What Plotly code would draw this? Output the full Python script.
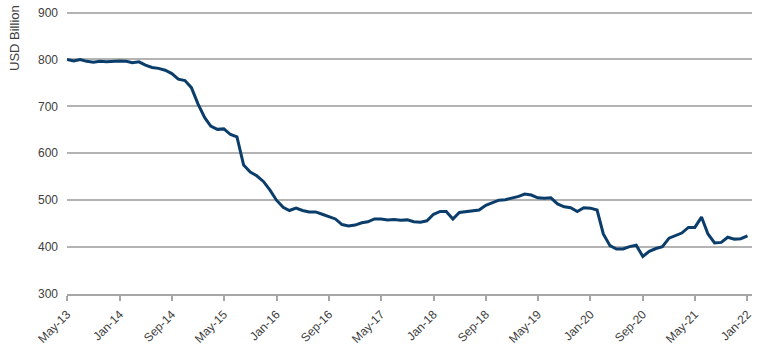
import plotly.graph_objects as go
import pandas as pd

start_month = "2013-05-01"
values = [
    800, 797, 800, 796, 794, 796, 795, 796, 797, 796,
    793, 795, 788, 783, 781, 777, 770, 758, 755, 740,
    705, 676, 658, 651, 652, 640, 635, 575, 560, 552,
    540, 522, 500, 485, 478, 483, 478, 475, 475, 470,
    465, 460, 448, 445, 447, 452, 454, 460, 460, 458,
    459, 457, 458, 454, 453, 456, 470, 476, 476, 460,
    474, 476, 477, 479, 489, 495, 500, 501, 504, 508,
    513, 511, 505, 504, 505, 492, 486, 484, 476, 484,
    483, 479, 428, 403, 396, 396, 401, 404, 380, 391,
    397, 401, 419, 425, 430, 442, 442, 464, 428, 409,
    410, 421, 417, 418, 424,
]
dates = pd.date_range(start_month, periods=len(values), freq="MS")

y_ticks = [300, 400, 500, 600, 700, 800, 900]
y_title = "USD Billion"

fig = go.Figure()
fig.add_trace(go.Scatter(
    x=dates, y=values, mode="lines",
    line=dict(color="#0b3d6b", width=3),
    hoverinfo="skip",
))

fig.update_layout(
    width=770, height=351,
    margin=dict(l=67, r=18, t=10, b=57),
    paper_bgcolor="white", plot_bgcolor="white",
    showlegend=False,
    font=dict(family="Liberation Sans, Arial", size=12, color="#404040"),
)
fig.update_xaxes(
    type="date", automargin=False,
    range=["2013-05-01", "2022-01-22"],
    tick0="2013-05-01", dtick="M8", tickformat="%b-%y",
    tickangle=-45,
    showgrid=False,
    showline=True, linecolor="#a6a6a6", linewidth=1.5,
    ticks="outside", ticklen=5, tickcolor="#a6a6a6", tickwidth=1.5,
    tickfont=dict(size=12, color="#404040"),
    ticklabelstandoff=2,
)
fig.update_yaxes(
    range=[300, 905.5], tickvals=y_ticks, automargin=False,
    showgrid=True, gridcolor="#b3b3b3", gridwidth=1.5,
    zeroline=False, showline=False,
    ticks="", ticklabelstandoff=8,
    tickfont=dict(size=12, color="#404040"),
)
fig.add_annotation(
    text=y_title, xref="paper", yref="paper",
    x=-(67 - 15) / 685, y=1 - (38 - 10) / 284,
    xanchor="center", yanchor="middle",
    textangle=-90, showarrow=False,
    font=dict(size=13, color="#404040"),
)

fig.write_html("out.html")
